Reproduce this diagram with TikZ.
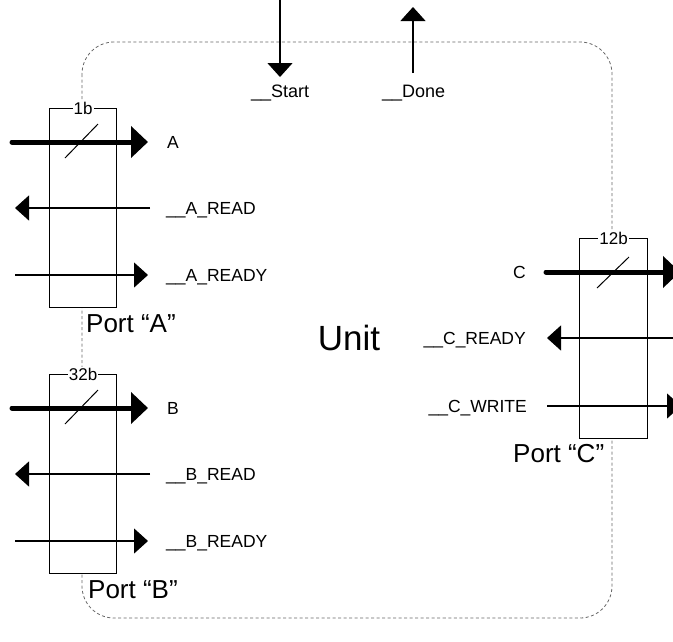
\documentclass[tikz,border=0pt]{standalone}
\usepackage{fontspec}
\setmainfont{Liberation Sans}
\usetikzlibrary{arrows.meta}
\begin{document}
\begin{tikzpicture}[x=1pt,y=-1pt,
  boundary/.style={draw=black!60, line width=0.8pt, dash pattern=on 3pt off 2.5pt, rounded corners=32pt},
  portbox/.style={draw, line width=1.1pt, fill=white, inner sep=0pt, anchor=north west, minimum width=67pt, minimum height=199pt},
  widthlbl/.style={fill=white, inner sep=1pt, font=\fontsize{17}{17}\selectfont},
  busarrow/.style={line width=5pt, line cap=round, -{Triangle[length=17pt,width=31pt]}},
  sigarrow/.style={line width=1.2pt, -{Triangle[length=14pt,width=25pt]}},
  slash/.style={line width=1pt},
  sig/.style={inner sep=0pt, anchor=base west, font=\fontsize{17.5}{17.5}\selectfont},
  sigr/.style={inner sep=0pt, anchor=base east, font=\fontsize{17.5}{17.5}\selectfont},
  ctl/.style={inner sep=0pt, anchor=base west, font=\fontsize{18}{18}\selectfont},
  portlbl/.style={inner sep=0pt, anchor=base west, font=\fontsize{26}{26}\selectfont},
  unitlbl/.style={inner sep=0pt, anchor=base, font=\fontsize{35}{35}\selectfont}]
\useasboundingbox (0,0) rectangle (673,641);
\fill[white] (0,0) rectangle (673,641);

% unit boundary
\draw[boundary] (82,42) rectangle (612,618);

% control signals
\coordinate (sS) at (280,0);  \coordinate (sE) at (280,77);
\coordinate (dS) at (413,73); \coordinate (dE) at (413,7);
\draw[sigarrow] (sS) -- (sE);
\draw[sigarrow] (dS) -- (dE);
\node[ctl] (start) at (251,97) {\_\_Start};
\node[ctl] (done) at (382,97) {\_\_Done};

% Port A
\node[portbox] (pa) at (49,108) {};
\node[widthlbl] (pal) at (pa.north) {1b};
\coordinate (aS) at (12,142);  \coordinate (aE) at (148,142);
\coordinate (arS) at (150,208); \coordinate (arE) at (15,208);
\coordinate (ayS) at (15,275); \coordinate (ayE) at (148,275);
\coordinate (asl1) at (65,158); \coordinate (asl2) at (98,124);
\draw[busarrow] (aS) -- (aE);
\draw[slash] (asl1) -- (asl2);
\draw[sigarrow] (arS) -- (arE);
\draw[sigarrow] (ayS) -- (ayE);
\node[sig] (la) at (167,148) {A};
\node[sig] (lar) at (166,214) {\_\_A\_READ};
\node[sig] (lay) at (166,281) {\_\_A\_READY};
\node[portlbl] (pan) at (86,332) {Port “A”};

% Port B
\node[portbox] (pb) at (49,374) {};
\node[widthlbl] (pbl) at (pb.north) {32b};
\coordinate (bS) at (12,408);  \coordinate (bE) at (148,408);
\coordinate (brS) at (150,474); \coordinate (brE) at (15,474);
\coordinate (byS) at (15,541); \coordinate (byE) at (148,541);
\coordinate (bsl1) at (65,424); \coordinate (bsl2) at (98,390);
\draw[busarrow] (bS) -- (bE);
\draw[slash] (bsl1) -- (bsl2);
\draw[sigarrow] (brS) -- (brE);
\draw[sigarrow] (byS) -- (byE);
\node[sig] (lb) at (167,414) {B};
\node[sig] (lbr) at (166,480) {\_\_B\_READ};
\node[sig] (lby) at (166,547) {\_\_B\_READY};
\node[portlbl] (pbn) at (88,598) {Port “B”};

% Port C
\node[portbox, minimum width=68pt, minimum height=200pt] (pc) at (579,238) {};
\node[widthlbl] (pcl) at (pc.north) {12b};
\coordinate (cS) at (546,272);  \coordinate (cE) at (680,272);
\coordinate (crS) at (675,338); \coordinate (crE) at (547,338);
\coordinate (cwS) at (547,406); \coordinate (cwE) at (681,406);
\coordinate (csl1) at (597,288); \coordinate (csl2) at (629,257);
\draw[busarrow] (cS) -- (cE);
\draw[slash] (csl1) -- (csl2);
\draw[sigarrow] (crS) -- (crE);
\draw[sigarrow] (cwS) -- (cwE);
\node[sigr] (lc) at (526,278) {C};
\node[sigr] (lcr) at (526,344) {\_\_C\_READY};
\node[sigr] (lcw) at (527,412) {\_\_C\_WRITE};
\node[portlbl] (pcn) at (513,462) {Port “C”};

% Unit label
\node[unitlbl] (unit) at (349,350) {Unit};
\end{tikzpicture}
\end{document}
